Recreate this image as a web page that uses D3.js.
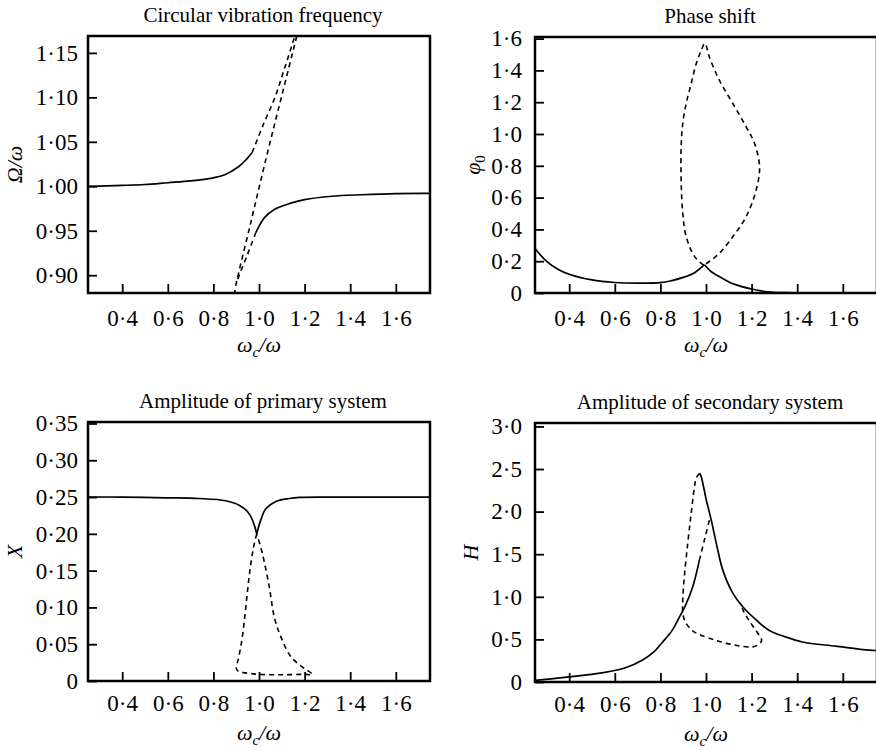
<!DOCTYPE html>
<html>
<head>
<meta charset="utf-8">
<script src="https://cdn.jsdelivr.net/npm/d3@7"></script>
<style>
body { margin: 0; background: #fff; }
text { font-family: "Liberation Serif", "Times New Roman", serif; fill: #000; }
</style>
</head>
<body>
<svg id="chart" width="876" height="750"></svg>
<script>
// tick values
var xTicks = [0.4, 0.6, 0.8, 1.0, 1.2, 1.4, 1.6];
var freqTicks = [0.90, 0.95, 1.00, 1.05, 1.10, 1.15];
var phaseTicks = [0, 0.2, 0.4, 0.6, 0.8, 1.0, 1.2, 1.4, 1.6];
var ampXTicks = [0, 0.05, 0.10, 0.15, 0.20, 0.25, 0.30, 0.35];
var ampHTicks = [0, 0.5, 1.0, 1.5, 2.0, 2.5, 3.0];

// curves as [wc/w, value]
// circular vibration frequency
var freqUpperSolid = [[0.25, 1.000], [0.40, 1.001], [0.50, 1.002], [0.60, 1.004], [0.70, 1.006], [0.80, 1.0095], [0.85, 1.013], [0.91, 1.022], [0.94, 1.029], [0.97, 1.038]];
var freqUpperDash = [[0.97, 1.038], [1.02, 1.07], [1.07, 1.10], [1.11, 1.131], [1.15, 1.163], [1.17, 1.18]];
var freqMiddleDash = [[0.892, 0.878], [0.898, 0.888], [0.96, 0.955], [1.037, 1.0375], [1.10, 1.102], [1.162, 1.165], [1.18, 1.183]];
var freqLowerSolid = [[0.986, 0.948], [1.00, 0.955], [1.023, 0.9645], [1.067, 0.974], [1.14, 0.981], [1.20, 0.985], [1.32, 0.9888], [1.45, 0.9905], [1.60, 0.9918], [1.75, 0.992]];
var freqLowerDash = [[0.986, 0.948], [0.949, 0.923], [0.913, 0.8997], [0.90, 0.89]];

// phase shift
var phaseSolidLeft = [[0.25, 0.28], [0.30, 0.20], [0.35, 0.15], [0.40, 0.118], [0.50, 0.082], [0.60, 0.066], [0.70, 0.062], [0.80, 0.065], [0.85, 0.078], [0.90, 0.098], [0.95, 0.128], [0.993, 0.178]];
var phaseSolidRight = [[0.993, 0.178], [1.022, 0.135], [1.067, 0.096], [1.126, 0.054], [1.20, 0.025], [1.27, 0.008], [1.35, 0.002], [1.45, 0], [1.75, 0]];
var phaseDash = [[0.99, 0.175], [0.95, 0.229], [0.913, 0.355], [0.898, 0.502], [0.891, 0.71], [0.891, 0.919], [0.898, 1.066], [0.913, 1.191], [0.935, 1.317], [0.957, 1.442], [0.979, 1.525], [0.995, 1.57], [1.015, 1.483], [1.059, 1.337], [1.118, 1.191], [1.176, 1.045], [1.213, 0.94], [1.235, 0.794], [1.22, 0.648], [1.176, 0.48], [1.118, 0.355], [1.059, 0.25], [1.015, 0.198], [0.99, 0.175]];

// amplitude of primary system
var ampXSolidLeft = [[0.25, 0.25], [0.40, 0.25], [0.59, 0.249], [0.737, 0.248], [0.854, 0.245], [0.913, 0.239], [0.95, 0.23], [0.971, 0.219], [0.99, 0.2]];
var ampXSolidRight = [[0.99, 0.2], [1.008, 0.219], [1.03, 0.234], [1.074, 0.244], [1.133, 0.248], [1.177, 0.2495], [1.30, 0.25], [1.50, 0.25], [1.75, 0.25]];
var ampXDash = [[0.99, 0.2], [0.975, 0.18], [0.96, 0.15], [0.947, 0.115], [0.935, 0.08], [0.922, 0.05], [0.908, 0.028], [0.90, 0.018], [0.91, 0.013], [0.942, 0.011], [1.0, 0.009], [1.1, 0.0085], [1.2, 0.009], [1.235, 0.009], [1.199, 0.017], [1.14, 0.033], [1.096, 0.06], [1.067, 0.087], [1.045, 0.128], [1.015, 0.173], [0.99, 0.2]];

// amplitude of secondary system
var ampHRiseSolid = [[0.25, 0.02], [0.35, 0.045], [0.45, 0.075], [0.55, 0.11], [0.65, 0.17], [0.72, 0.255], [0.77, 0.35], [0.81, 0.47], [0.85, 0.6], [0.884, 0.765], [0.91, 0.9], [0.942, 1.118], [0.971, 1.43]];
var ampHRiseDash = [[0.971, 1.43], [0.993, 1.667], [1.017, 1.92]];
var ampHFallSolid = [[0.972, 2.45], [0.979, 2.41], [1.001, 2.14], [1.023, 1.9], [1.045, 1.63], [1.074, 1.31], [1.118, 1.04], [1.162, 0.88], [1.221, 0.726], [1.276, 0.608], [1.349, 0.529], [1.423, 0.47], [1.569, 0.42], [1.716, 0.373], [1.75, 0.37]];
var ampHDash = [[0.972, 2.45], [0.958, 2.40], [0.95, 2.3], [0.935, 1.98], [0.92, 1.63], [0.905, 1.235], [0.898, 0.96], [0.898, 0.82], [0.905, 0.73], [0.913, 0.687], [0.942, 0.6], [0.969, 0.56], [1.042, 0.49], [1.13, 0.431], [1.203, 0.412], [1.232, 0.443], [1.244, 0.49], [1.218, 0.608], [1.188, 0.725], [1.165, 0.83], [1.15, 0.93]];

var fmt = function (digits) {
  return function (d) {
    return d === 0 ? "0" : d.toFixed(digits).replace(".", "\u00b7");
  };
};

var panels = [
  {title: "Circular vibration frequency", x0: 88, y0: 36, x1: 430, y1: 293,
   yDomain: [0.88, 1.169], yTicks: freqTicks, yDigits: 2, yLabel: "omega", labelX: 15,
   xPad: 17, yPad: 10,
   solid: [freqUpperSolid, freqLowerSolid], dashed: [freqUpperDash, freqMiddleDash, freqLowerDash]},
  {title: "Phase shift", x0: 535, y0: 37, x1: 877, y1: 293,
   yDomain: [0, 1.61], yTicks: phaseTicks, yDigits: 1, yLabel: "phi", labelX: 473,
   xPad: 17, yPad: 13,
   solid: [phaseSolidLeft, phaseSolidRight], dashed: [phaseDash]},
  {title: "Amplitude of primary system", x0: 88, y0: 422, x1: 430, y1: 681,
   yDomain: [0, 0.352], yTicks: ampXTicks, yDigits: 2, yLabel: "X", labelX: 15,
   xPad: 14, yPad: 10,
   solid: [ampXSolidLeft, ampXSolidRight], dashed: [ampXDash]},
  {title: "Amplitude of secondary system", x0: 535, y0: 423, x1: 877, y1: 682,
   yDomain: [0, 3.04], yTicks: ampHTicks, yDigits: 1, yLabel: "H", labelX: 471,
   xPad: 14, yPad: 13,
   solid: [ampHRiseSolid, ampHFallSolid], dashed: [ampHRiseDash, ampHDash]}
];

var svg = d3.select("#chart");
var defs = svg.append("defs");

panels.forEach(function (p, i) {
  var x = d3.scaleLinear().domain([0.25, 1.75]).range([p.x0, p.x1]);
  var y = d3.scaleLinear().domain(p.yDomain).range([p.y1, p.y0]);

  defs.append("clipPath").attr("id", "clip" + i)
    .append("rect")
    .attr("x", p.x0).attr("y", p.y0)
    .attr("width", p.x1 - p.x0).attr("height", p.y1 - p.y0);

  var g = svg.append("g");

  // x axis, ticks pointing inward
  var xa = g.append("g")
    .attr("transform", "translate(0," + p.y1 + ")")
    .call(d3.axisBottom(x).tickValues(xTicks).tickFormat(fmt(1))
      .tickSizeInner(-9).tickSizeOuter(0).tickPadding(p.xPad));

  // y axis
  var ya = g.append("g")
    .attr("transform", "translate(" + p.x0 + ",0)")
    .call(d3.axisLeft(y).tickValues(p.yTicks).tickFormat(fmt(p.yDigits))
      .tickSizeInner(-9).tickSizeOuter(0).tickPadding(p.yPad));

  [xa, ya].forEach(function (a) {
    a.select(".domain").remove();
    a.attr("font-family", null).attr("font-size", 23);
    a.selectAll("line").attr("stroke", "#000").attr("stroke-width", 1.8);
  });

  // curves
  var line = d3.line()
    .x(function (d) { return x(d[0]); })
    .y(function (d) { return y(d[1]); })
    .curve(d3.curveCatmullRom.alpha(0.5));

  var curves = g.append("g").attr("clip-path", "url(#clip" + i + ")");
  p.solid.forEach(function (s) {
    curves.append("path").datum(s)
      .attr("fill", "none").attr("stroke", "#000").attr("stroke-width", 1.7)
      .attr("d", line);
  });
  p.dashed.forEach(function (s) {
    curves.append("path").datum(s)
      .attr("fill", "none").attr("stroke", "#000").attr("stroke-width", 1.6)
      .attr("stroke-dasharray", "5,4")
      .attr("d", line);
  });

  // frame
  g.append("rect")
    .attr("x", p.x0).attr("y", p.y0)
    .attr("width", p.x1 - p.x0).attr("height", p.y1 - p.y0)
    .attr("fill", "none").attr("stroke", "#000").attr("stroke-width", 2.5);

  // title
  var cx = (p.x0 + p.x1) / 2;
  g.append("text")
    .attr("x", cx + 4).attr("y", p.y0 - 14)
    .attr("text-anchor", "middle").attr("font-size", 21)
    .text(p.title);

  // x axis title
  var xt = g.append("text")
    .attr("x", cx).attr("y", p.y1 + 59)
    .attr("text-anchor", "middle").attr("font-size", 22)
    .attr("font-style", "italic");
  xt.append("tspan").text("\u03c9");
  xt.append("tspan").attr("font-size", 15).attr("dy", 5).text("c");
  xt.append("tspan").attr("dy", -5).text("/\u03c9");

  // y axis title
  var cy = (p.y0 + p.y1) / 2;
  var yt = g.append("text")
    .attr("transform", "translate(" + (p.labelX + 7) + "," + cy + ") rotate(-90)")
    .attr("text-anchor", "middle").attr("font-size", 22)
    .attr("font-style", "italic");
  if (p.yLabel === "omega") {
    yt.text("\u03a9/\u03c9");
  } else if (p.yLabel === "phi") {
    yt.append("tspan").text("\u03c6");
    yt.append("tspan").attr("font-size", 15).attr("font-style", "normal").attr("dy", 5).text("0");
  } else {
    yt.text(p.yLabel);
  }
});
</script>
</body>
</html>
